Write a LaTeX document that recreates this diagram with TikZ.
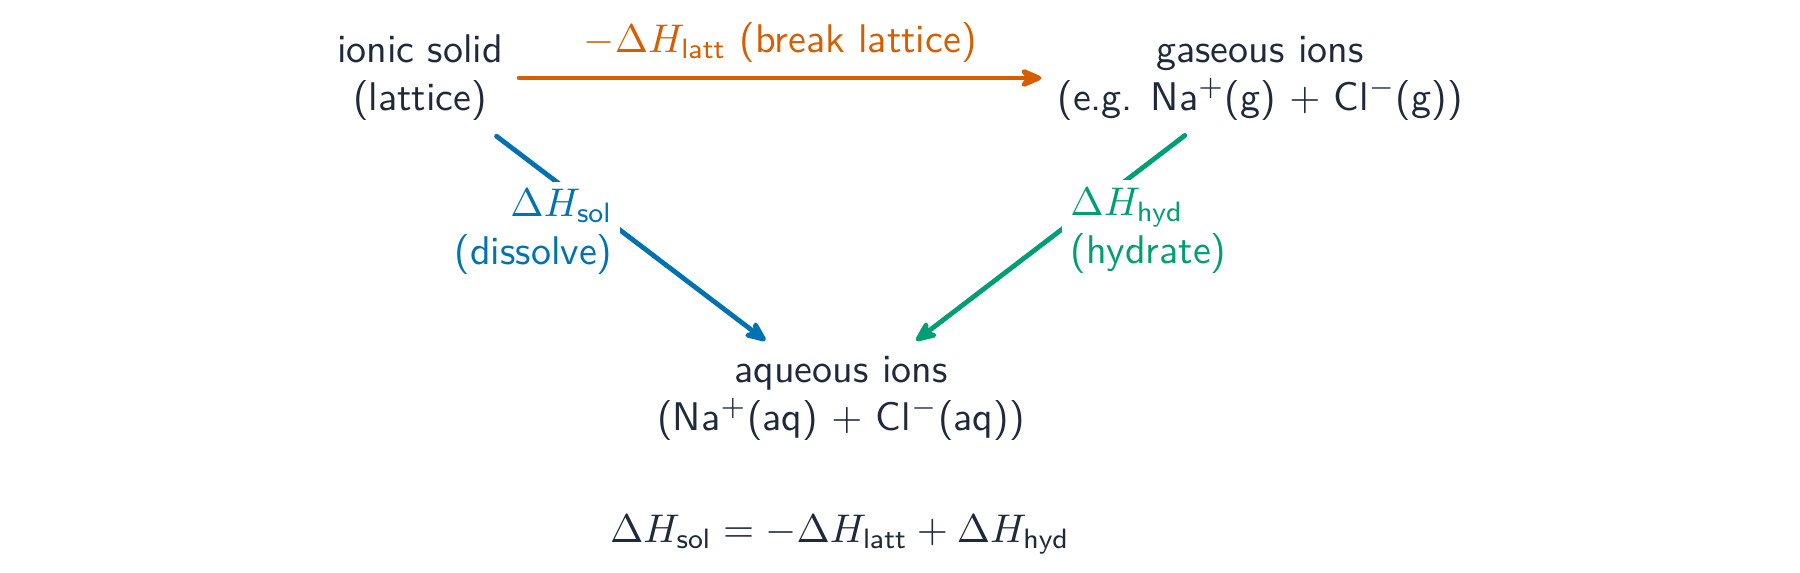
\documentclass[tikz,border=0pt]{standalone}
\usepackage{xcolor}
\usepackage{amsmath}
\usepackage{amssymb}
\usepackage{tikz}
\usetikzlibrary{arrows.meta}
\renewcommand{\familydefault}{\sfdefault}
\definecolor{ink}{HTML}{1E293B}
\definecolor{lattorange}{HTML}{D55E00}
\definecolor{solblue}{HTML}{0072B2}
\definecolor{hydgreen}{HTML}{009E73}

\begin{document}
\begin{tikzpicture}[x=0.25pt, y=0.25pt, font=\sffamily, text=ink,
		species/.style={align=center, text=ink},
		cyclearrow/.style={line width=1.2pt, line cap=round, -{Stealth[length=7pt, width=6pt, round]}, shorten <=0.5pt, shorten >=0.5pt},
		steplabel/.style={inner sep=2pt, fill=white}]
		\useasboundingbox (0,0) rectangle (1800,572);
		\node[species] (solid) at (420,494) {ionic solid\\(lattice)};
		\node[species] (gas) at (1260,494) {gaseous ions\\(e.g. Na$^+$(g) $+$ Cl$^-$(g))};
		\node[species] (aq) at (841,174) {aqueous ions\\(Na$^+$(aq) $+$ Cl$^-$(aq))};
		\node[text=ink] (cycle) at (840,37) {$\Delta H_{\mathsf{sol}} = -\Delta H_{\mathsf{latt}} + \Delta H_{\mathsf{hyd}}$};
		\draw[cyclearrow, lattorange] (solid.east) -- (gas.west) node[midway, above, text=lattorange] {$-\Delta H_{\mathsf{latt}}$ (break lattice)};
		\draw[cyclearrow, solblue] (solid) -- (aq) node[pos=0.47, left, steplabel, align=right, text=solblue] {$\Delta H_{\mathsf{sol}}$\\(dissolve)};
		\draw[cyclearrow, hydgreen] (gas) -- (aq) node[pos=0.465, right, steplabel, align=left, text=hydgreen] {$\Delta H_{\mathsf{hyd}}$\\(hydrate)};
	\end{tikzpicture}
\end{document}
